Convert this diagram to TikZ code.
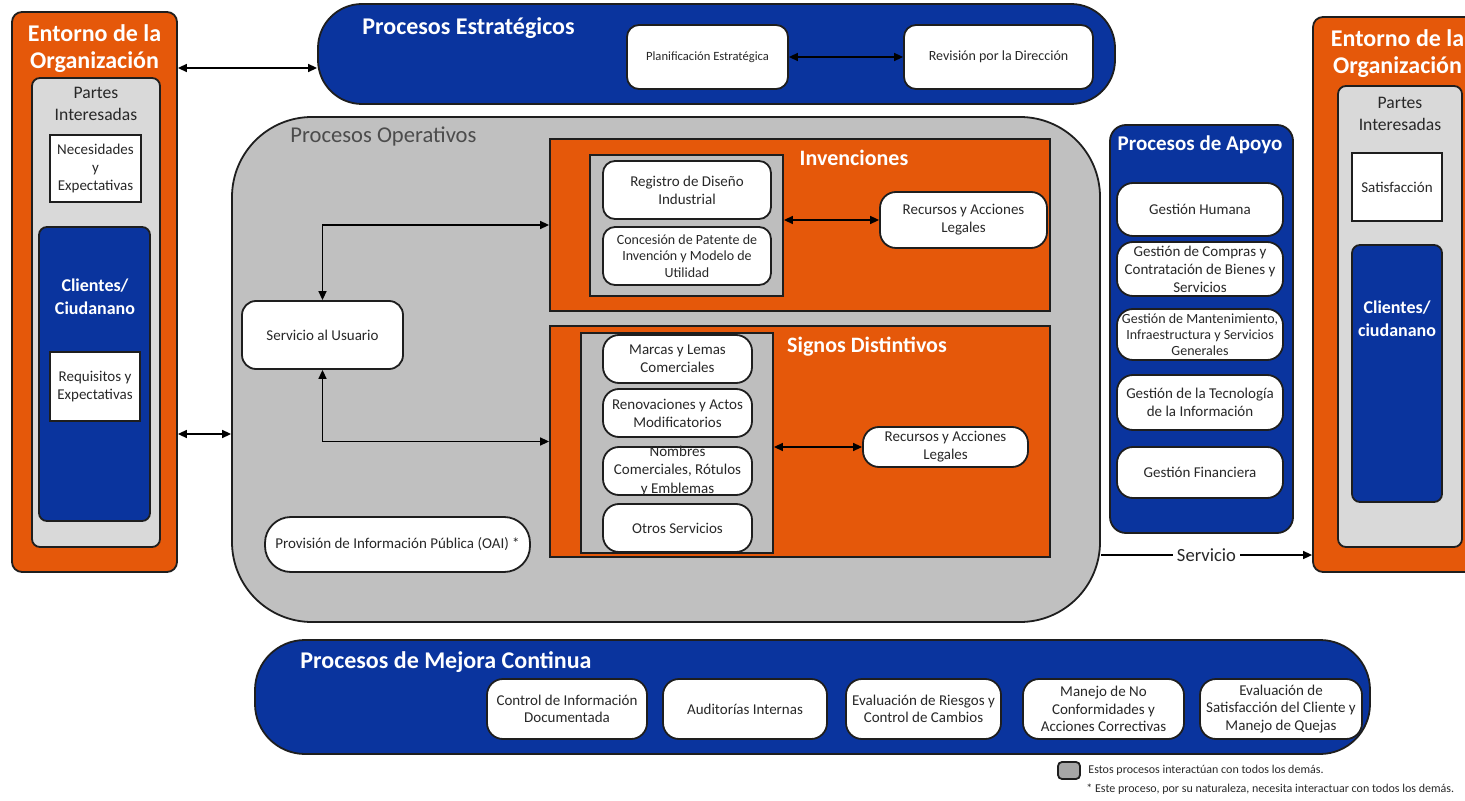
\documentclass[tikz,border=0pt]{standalone}
\usepackage{fontspec}
\setmainfont{Carlito}
\usetikzlibrary{arrows.meta}
\definecolor{org}{RGB}{229,88,10}
\definecolor{blu}{RGB}{10,52,158}
\definecolor{opgray}{RGB}{192,192,192}
\definecolor{ltgray}{RGB}{217,217,217}
\definecolor{ingray}{RGB}{190,190,190}
\definecolor{txt}{RGB}{40,40,40}
\definecolor{edge}{RGB}{30,30,30}
\begin{document}
\begin{tikzpicture}[x=0.5pt,y=-0.5pt,
  frame/.style={draw=edge, line width=0.9pt, inner sep=0pt},
  wbox/.style={frame, fill=white, rounded corners=6pt, align=center, text=txt, font=\fontsize{7.5}{9}\selectfont},
  sqbox/.style={frame, fill=white, align=center, text=txt, font=\fontsize{7.5}{9}\selectfont},
  ttl/.style={text=white, font=\bfseries\fontsize{12}{13.5}\selectfont, inner sep=0pt, align=center},
  subttl/.style={text=white, font=\bfseries\fontsize{11}{13}\selectfont, inner sep=0pt},
  lbl/.style={text=txt, font=\fontsize{8.8}{11}\selectfont, align=center, inner sep=0pt},
  cli/.style={text=white, font=\bfseries\fontsize{9}{11.5}\selectfont, align=center, inner sep=0pt},
  dbl/.style={{Triangle[length=4.5pt,width=4pt]}-{Triangle[length=4.5pt,width=4pt]}, line width=0.75pt, draw=black},
  one/.style={-{Triangle[length=4.5pt,width=4pt]}, line width=0.75pt, draw=black}
]
\useasboundingbox (0,0) rectangle (1465,801);
\clip (0,0) rectangle (1465,801);

% ---------- left environment ----------
\node[frame, fill=org, rounded corners=5pt, minimum width=82.5pt, minimum height=280pt] (entL) at (94.5,292) {};
\node[ttl] (entLt) at (94.5,48.5) {Entorno de la\\Organización};
\node[frame, fill=ltgray, rounded corners=4pt, minimum width=64pt, minimum height=234.5pt] (grayL) at (96,312.5) {};
\node[lbl] (parL) at (96,104) {Partes\\Interesadas};
\node[sqbox, minimum width=45.5pt, minimum height=33.5pt] (necL) at (95.5,168.5) {Necesidades\\y\\Expectativas};
\node[frame, fill=blu, rounded corners=4pt, minimum width=55.5pt, minimum height=147pt] (bluL) at (94.5,374) {};
\node[cli] (cliL) at (95,297) {Clientes/\\Ciudanano};
\node[sqbox, minimum width=45pt, minimum height=34.5pt] (reqL) at (95,386.5) {Requisitos y\\Expectativas};

% ---------- right environment ----------
\node[frame, fill=org, rounded corners=5pt, minimum width=83.5pt, minimum height=277.5pt] (entR) at (1396.5,294.5) {};
\node[ttl] (entRt) at (1397.5,54) {Entorno de la\\Organización};
\node[frame, fill=ltgray, rounded corners=4pt, minimum width=62pt, minimum height=230.5pt] (grayR) at (1400,316.5) {};
\node[lbl] (parR) at (1400,114) {Partes\\Interesadas};
\node[sqbox, minimum width=45pt, minimum height=34pt] (satR) at (1397,187) {Satisfacción};
\node[frame, fill=blu, rounded corners=4pt, minimum width=45pt, minimum height=128.5pt] (bluR) at (1397,373.5) {};
\node[cli] (cliR) at (1397,318.5) {Clientes/\\ciudanano};

% ---------- strategic ----------
\node[frame, fill=blu, rounded corners=22pt, minimum width=398.5pt, minimum height=50pt] (estr) at (716.5,54) {};
\node[ttl, anchor=west] (estrt) at (362,28) {Procesos Estratégicos};
\node[wbox, font=\fontsize{6.3}{8}\selectfont, minimum width=80.5pt, minimum height=32pt] (plan) at (707.5,57) {Planificación Estratégica};
\node[wbox, font=\fontsize{7}{8}\selectfont, minimum width=94.5pt, minimum height=32pt] (rev) at (998.5,57) {Revisión por la Dirección};
\draw[dbl] (plan) -- (rev);

% ---------- operative ----------
\node[frame, fill=opgray, rounded corners=40pt, minimum width=434pt, minimum height=252.5pt] (oper) at (666,369.5) {};
\node[anchor=west, text=black!70, font=\fontsize{11.3}{13}\selectfont, inner sep=0pt] (opert) at (290,137) {Procesos Operativos};

\node[frame, fill=org, minimum width=250pt, minimum height=86pt] (inv) at (800,225) {};
\node[subttl] (invt) at (854,158) {Invenciones};
\node[frame, fill=ingray, minimum width=96.5pt, minimum height=70.5pt] (invg) at (686.5,225.5) {};
\node[wbox, minimum width=84pt, minimum height=29pt] (reg) at (687,190) {Registro de Diseño\\Industrial};
\node[wbox, font=\fontsize{7}{8.2}\selectfont, minimum width=84pt, minimum height=29pt] (con) at (687,256) {Concesión de Patente de\\Invención y Modelo de\\Utilidad};
\node[wbox, rounded corners=8pt, minimum width=83.5pt, minimum height=28pt] (recI) at (963.5,220) {Recursos y Acciones\\Legales};
\draw[dbl] (invg.east |- recI.west) -- (recI.west);

\node[frame, fill=org, minimum width=250pt, minimum height=115.5pt] (sig) at (800,441.5) {};
\node[subttl] (sigt) at (867,347) {Signos Distintivos};
\node[frame, fill=ingray, minimum width=96pt, minimum height=110pt] (sigg) at (677,443) {};
\node[wbox, rounded corners=8pt, minimum width=74.5pt, minimum height=24pt] (mar) at (677.5,359) {Marcas y Lemas\\Comerciales};
\node[wbox, rounded corners=8pt, minimum width=74.5pt, minimum height=24pt] (ren) at (677.5,413) {Renovaciones y Actos\\Modificatorios};
\node[wbox, rounded corners=8pt, minimum width=74.5pt, minimum height=24pt] (nom) at (677.5,471) {};
\node[align=center, text=txt, font=\fontsize{7.5}{9.2}\selectfont, inner sep=0pt] (nomt) at (nom.center) {Nombres\\Comerciales, Rótulos\\y Emblemas};
\node[wbox, rounded corners=8pt, minimum width=74.5pt, minimum height=24pt] (otr) at (677.5,528) {Otros Servicios};
\node[wbox, rounded corners=8pt, minimum width=82.5pt, minimum height=20pt] (recS) at (945.5,447) {Recursos y Acciones\\Legales};
\draw[dbl] (sigg.east |- recS.west) -- (recS.west);

\node[wbox, rounded corners=7pt, minimum width=80.5pt, minimum height=34pt] (serv) at (322.5,335) {Servicio al Usuario};
\node[wbox, rounded corners=13pt, minimum width=132.5pt, minimum height=27.5pt] (prov) at (397.5,544.5) {Provisión de Información Pública (OAI) *};
\draw[dbl] (serv.north) |- (inv.west);
\draw[dbl] (serv.south) |- (sig.west);

% ---------- support ----------
\node[frame, fill=blu, rounded corners=8pt, minimum width=91.5pt, minimum height=204pt] (apo) at (1201.5,329) {};
\node[ttl, font=\bfseries\fontsize{10.5}{12}\selectfont] (apot) at (1200,145) {Procesos de Apoyo};
\node[wbox, rounded corners=8pt, minimum width=83pt, minimum height=26.5pt] (gh) at (1200,209.5) {Gestión Humana};
\node[wbox, rounded corners=8pt, minimum width=83pt, minimum height=27pt] (gc) at (1200,269) {Gestión de Compras y\\Contratación de Bienes y\\Servicios};
\node[wbox, rounded corners=8pt, font=\fontsize{7}{8}\selectfont, minimum width=83pt, minimum height=25.5pt] (gm) at (1200,334.5) {Gestión de Mantenimiento,\\Infraestructura y Servicios\\Generales};
\node[wbox, rounded corners=8pt, minimum width=83pt, minimum height=27.5pt] (gt) at (1200,402.5) {Gestión de la Tecnología\\de la Información};
\node[wbox, rounded corners=8pt, minimum width=83pt, minimum height=25.5pt] (gf) at (1200,472.5) {Gestión Financiera};

% ---------- improvement ----------
\node[frame, fill=blu, rounded corners=25pt, minimum width=557.5pt, minimum height=57pt] (mej) at (812.5,697) {};
\node[ttl, anchor=west] (mejt) at (300,662) {Procesos de Mejora Continua};
\node[wbox, rounded corners=8pt, font=\fontsize{7.5}{8.7}\selectfont, minimum width=80pt, minimum height=30pt] (m1) at (567,709) {Control de Información\\Documentada};
\node[wbox, rounded corners=8pt, font=\fontsize{7.5}{8.7}\selectfont, minimum width=82pt, minimum height=30pt] (m2) at (745,709) {Auditorías Internas};
\node[wbox, rounded corners=8pt, font=\fontsize{7.5}{8.7}\selectfont, minimum width=77.5pt, minimum height=30pt] (m3) at (923.5,709) {Evaluación de Riesgos y\\Control de Cambios};
\node[wbox, rounded corners=8pt, font=\fontsize{7.5}{8.7}\selectfont, minimum width=80.5pt, minimum height=30pt] (m4) at (1103.5,709) {Manejo de No\\Conformidades y\\Acciones Correctivas};
\node[wbox, rounded corners=8pt, font=\fontsize{7.5}{8.7}\selectfont, minimum width=81pt, minimum height=30pt] (m5) at (1281,709) {Evaluación de\\Satisfacción del Cliente y\\Manejo de Quejas};

% ---------- connectors ----------
\coordinate (yA) at (0,68);
\coordinate (yB) at (0,434);
\coordinate (yS) at (0,555);
\draw[dbl] (entL.east |- yA) -- (estr.west |- yA);
\draw[dbl] (entL.east |- yB) -- (oper.west |- yB);
\draw[one] (oper.east |- yS) -- node[fill=white, text=txt, font=\fontsize{9.3}{11}\selectfont, inner sep=2pt] (servt) {Servicio} (entR.west |- yS);

% ---------- legend ----------
\node[frame, fill=black!35, rounded corners=2pt, minimum width=11pt, minimum height=8.5pt] (leg) at (1069,770.5) {};
\node[anchor=west, font=\fontsize{6}{7}\selectfont, text=txt, inner sep=0pt] (legt) at (1088,770.5) {Estos procesos interactúan con todos los demás.};
\node[anchor=west, font=\fontsize{6}{7}\selectfont, text=txt, inner sep=0pt] (foot) at (1086,789) {* Este proceso, por su naturaleza, necesita interactuar con todos los demás.};
\end{tikzpicture}
\end{document}
